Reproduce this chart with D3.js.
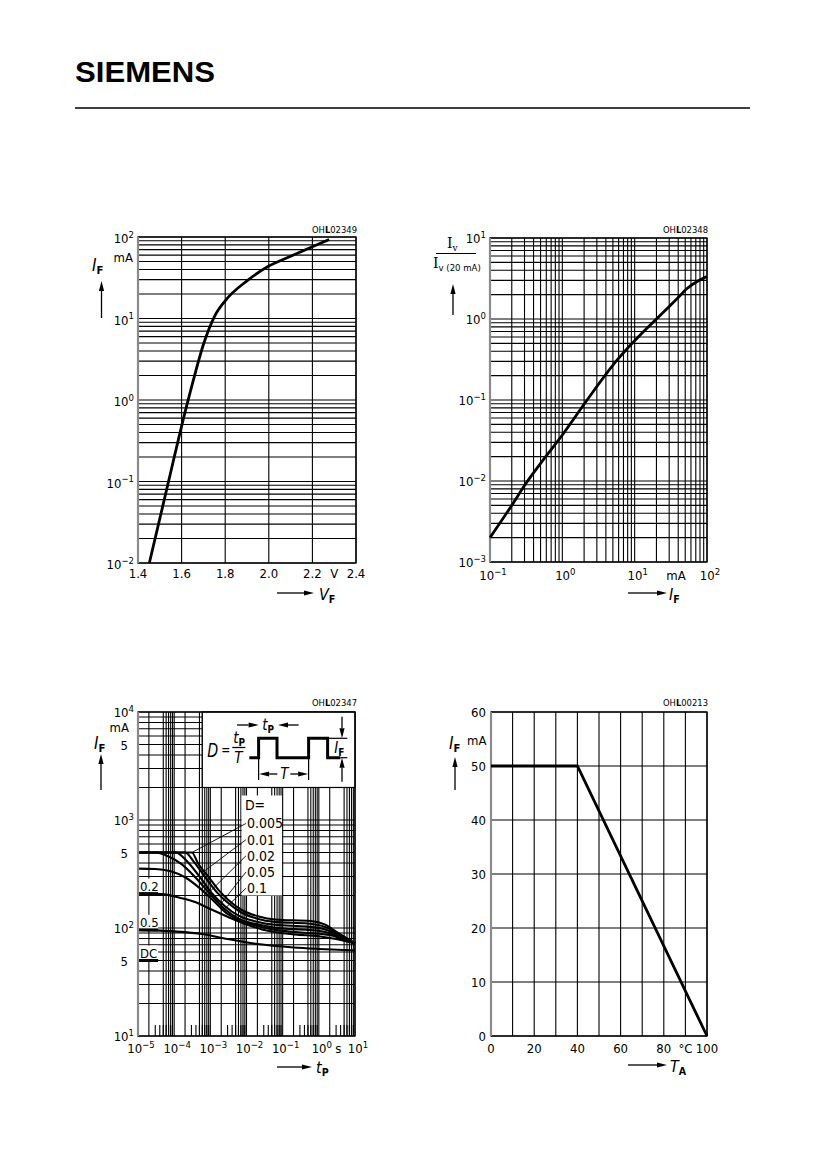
<!DOCTYPE html>
<html>
<head>
<meta charset="utf-8">
<script src="https://cdn.jsdelivr.net/npm/d3@7"></script>
<style>
  body { margin: 0; background: #fff; }
  svg { font-family: "DejaVu Sans Condensed", "DejaVu Sans", sans-serif; font-stretch: condensed; }
</style>
</head>
<body>
<script>
// ---------- DATOS ----------
// 1) IF = f(VF)
var vfVolts   = [1.452, 1.50, 1.55, 1.60, 1.65, 1.70, 1.75, 1.80, 1.90, 2.00, 2.10, 2.20, 2.277]
var vfCurrent = [0.01, 0.035, 0.13, 0.48, 1.6, 4.8, 10.5, 16.5, 29, 44, 58, 76, 93]
var vfTicks   = [1.4, 1.6, 1.8, 2.0, 2.2, 2.4]

// 2) Iv/Iv(20mA) = f(IF)
var ivCurrent = [0.1, 0.2, 0.3, 0.5, 1.0, 2.2, 5.7, 13.3, 20, 38.5, 53, 75, 100]
var ivRel     = [0.002, 0.005, 0.0088, 0.0165, 0.037, 0.1, 0.31, 0.7, 1.0, 1.78, 2.38, 2.95, 3.35]

// 3) IF = f(tp), parametro D   [tp en s, IF en mA]
var dutyLabels = ["0.005", "0.01", "0.02", "0.05", "0.1"]
var curveD005 = [[1e-5,500],[3.1e-4,500],[4.5e-4,400],[9e-4,296],[1.7e-3,224],[3.2e-3,181],[7.6e-3,146],[2.2e-2,128],[6.3e-2,120],[0.6,116],[1.45,108],[3.4,90],[10,72]]
var curveD01  = [[1e-5,500],[2e-4,500],[3.5e-4,410],[7e-4,300],[1.5e-3,215],[3e-3,172],[7e-3,140],[2e-2,122],[6e-2,114],[0.5,110],[1.5,102],[3.5,88],[10,72]]
var curveD02  = [[1e-5,500],[1.1e-4,500],[2.2e-4,420],[5e-4,300],[1.1e-3,210],[2.5e-3,160],[6e-3,130],[1.8e-2,115],[6e-2,107],[0.5,103],[1.5,97],[3.5,86],[10,72]]
var curveD05  = [[1e-5,500],[3e-5,500],[7e-5,460],[1.6e-4,390],[4e-4,290],[1e-3,205],[2.5e-3,150],[6e-3,122],[2e-2,108],[7e-2,100],[0.5,96],[1.5,92],[4,82],[10,72]]
var curveD1   = [[1e-5,355],[3e-5,352],[8e-5,335],[2e-4,295],[5e-4,235],[1.2e-3,180],[3e-3,135],[8e-3,115],[2.5e-2,102],[0.1,94],[0.5,90],[2,86],[5,78],[10,72]]
var curveD2   = [[1e-5,208],[4.5e-5,206],[1.5e-4,190],[3.8e-4,174],[1e-3,150],[3.2e-3,126],[1e-2,108],[2.7e-2,97],[0.22,87],[1,84],[3,79],[10,72]]
var curveD5   = [[1e-5,96],[3e-5,95],[1e-4,93],[6e-4,88],[3e-3,79],[2e-2,71],[0.2,66],[1,64],[10,62]]
var curveDC   = [[1e-5,50],[3.6e-5,50]]
var leaderTimes = [3.1e-4, 5.9e-4, 1e-3, 1.9e-3, 2.3e-3]   // donde tocan las lineas guia de la leyenda

// 4) IF = f(TA)
var taTemp    = [0, 40, 100]
var taCurrent = [50, 50, 0]
var taTicks   = [0, 20, 40, 60, 80, 100]
var ifTicks   = [0, 10, 20, 30, 40, 50, 60]

// ---------- UTILIDADES ----------
var svg = d3.select("body").append("svg").attr("width", 826).attr("height", 1169)
var TICK = 13

function decades(lo, hi, mults) {
    var out = []
    for (var e = Math.round(Math.log10(lo)); e < Math.round(Math.log10(hi)); e++)
        mults.forEach(function(m) { out.push(m * Math.pow(10, e)) })
    out.push(hi)
    return out
}

function gridLines(g, x, y, xs, ys) {
    g.selectAll(null).data(xs).enter().append("line")
        .attr("x1", d => x(d)).attr("x2", d => x(d))
        .attr("y1", y.range()[0]).attr("y2", y.range()[1])
        .attr("stroke", "#000").attr("stroke-width", 1.1)
    g.selectAll(null).data(ys).enter().append("line")
        .attr("y1", d => y(d)).attr("y2", d => y(d))
        .attr("x1", x.range()[0]).attr("x2", x.range()[1])
        .attr("stroke", "#000").attr("stroke-width", 1.1)
}

function frame(g, x, y) {
    var x0 = x.range()[0], x1 = x.range()[1], y0 = y.range()[1], y1 = y.range()[0]
    g.append("rect").attr("x", x0).attr("y", y0).attr("width", x1 - x0).attr("height", y1 - y0)
        .attr("fill", "none").attr("stroke", "#000").attr("stroke-width", 1.3)
    g.append("line").attr("x1", x0).attr("x2", x0).attr("y1", y0).attr("y2", y1)
        .attr("stroke", "#8a8a8a").attr("stroke-width", 2.2)
}

function pow10(g, x, y, exp, anchor) {
    var t = g.append("text").attr("x", x).attr("y", y).attr("font-size", TICK)
        .attr("text-anchor", anchor || "end")
    t.append("tspan").text("10")
    t.append("tspan").attr("dy", -5.5).attr("font-size", 9.5).text(exp)
    return t
}

function label(g, x, y, txt, anchor, size) {
    return g.append("text").attr("x", x).attr("y", y).attr("font-size", size || TICK)
        .attr("text-anchor", anchor || "middle").text(txt)
}

function symbol(g, x, y, main, sub, size) {
    size = size || 15
    var t = g.append("text").attr("x", x).attr("y", y).attr("font-size", size)
    t.append("tspan").attr("font-style", "italic").text(main)
    t.append("tspan").attr("dy", 3).attr("font-size", size * 0.66).attr("font-weight", "bold").text(sub)
    return t
}

function arrow(g, x1, y1, x2, y2, len, w) {
    len = len || 10; w = w || 2.6
    var a = Math.atan2(y2 - y1, x2 - x1)
    var bx = x2 - len * Math.cos(a), by = y2 - len * Math.sin(a)
    g.append("line").attr("x1", x1).attr("y1", y1).attr("x2", bx).attr("y2", by)
        .attr("stroke", "#000").attr("stroke-width", 1.3)
    g.append("path").attr("fill", "#000")
        .attr("d", "M" + x2 + "," + y2 +
            "L" + (bx - w * Math.sin(a)) + "," + (by + w * Math.cos(a)) +
            "L" + (bx + w * Math.sin(a)) + "," + (by - w * Math.cos(a)) + "Z")
}

function codeLabel(g, xr, y, pre, num) {
    var t = g.append("text").attr("x", xr).attr("y", y).attr("font-size", 9.5)
        .attr("text-anchor", "end").attr("textLength", 45).attr("lengthAdjust", "spacingAndGlyphs")
    t.append("tspan").text(pre)
    t.append("tspan").attr("font-weight", "bold").text("L")
    t.append("tspan").text(num)
}

function expText(e) { return e < 0 ? "\u2212" + (-e) : "" + e }

// ---------- CABECERA ----------
svg.append("text").attr("x", 75).attr("y", 81.5)
    .attr("font-family", "Liberation Sans, Arial, sans-serif").attr("font-weight", "bold")
    .attr("font-size", 30).attr("font-stretch", "normal")
    .attr("textLength", 140).attr("lengthAdjust", "spacingAndGlyphs").text("SIEMENS")
svg.append("line").attr("x1", 75).attr("x2", 750).attr("y1", 108).attr("y2", 108)
    .attr("stroke", "#000").attr("stroke-width", 1.3)

// ---------- GRAFICO 1: IF = f(VF) ----------
var g1 = svg.append("g")
var x1 = d3.scaleLinear().domain([1.4, 2.4]).range([138, 356])
var y1 = d3.scaleLog().domain([0.01, 100]).range([563, 237])

gridLines(g1, x1, y1, vfTicks, decades(0.01, 100, [1,2,3,4,5,6,7,8,9]))
frame(g1, x1, y1)

g1.append("path").datum(d3.zip(vfVolts, vfCurrent))
    .attr("fill", "none").attr("stroke", "#000").attr("stroke-width", 2.8)
    .attr("d", d3.line().x(d => x1(d[0])).y(d => y1(d[1])).curve(d3.curveMonotoneX))

vfTicks.forEach(function(v) { label(g1, x1(v), 578, v.toFixed(1)) })
label(g1, x1(2.3), 578, "V")
;[2, 1, 0, -1, -2].forEach(function(e) { pow10(g1, 134, y1(Math.pow(10, e)) + 6, expText(e)) })
label(g1, 133, 262, "mA", "end")
codeLabel(g1, 357, 233, "OH", "02349")
symbol(g1, 92, 271, "I", "F", 17)
arrow(g1, 101.5, 318, 101.5, 281)
arrow(g1, 277, 593, 314, 593)
symbol(g1, 319, 600, "V", "F", 16)

// ---------- GRAFICO 2: Iv/Iv(20mA) = f(IF) ----------
var g2 = svg.append("g")
var x2 = d3.scaleLog().domain([0.1, 100]).range([490, 707])
var y2 = d3.scaleLog().domain([0.001, 10]).range([562, 238])

gridLines(g2, x2, y2, decades(0.1, 100, [1,2,3,4,5,6,7,8,9]), decades(0.001, 10, [1,2,3,4,5,6,7,8,9]))
frame(g2, x2, y2)

g2.append("path").datum(d3.zip(ivCurrent, ivRel))
    .attr("fill", "none").attr("stroke", "#000").attr("stroke-width", 2.8)
    .attr("d", d3.line().x(d => x2(d[0])).y(d => y2(d[1])).curve(d3.curveMonotoneX))

;[-1, 0, 1, 2].forEach(function(e) { pow10(g2, x2(Math.pow(10, e)) + 3, 580, expText(e), "middle") })
label(g2, 676, 580, "mA")
;[1, 0, -1, -2, -3].forEach(function(e) { pow10(g2, 486, y2(Math.pow(10, e)) + 5, expText(e)) })
codeLabel(g2, 708, 233, "OH", "02348")

// etiqueta del eje y en forma de fraccion
var frac = g2.append("g").attr("font-family", "DejaVu Serif, serif").attr("font-stretch", "normal")
var num = frac.append("text").attr("x", 447).attr("y", 248).attr("font-size", 14)
num.append("tspan").text("I")
num.append("tspan").attr("dy", 3).attr("font-size", 9).text("v")
frac.append("line").attr("x1", 436).attr("x2", 476).attr("y1", 253.5).attr("y2", 253.5)
    .attr("stroke", "#000").attr("stroke-width", 1)
var den = frac.append("text").attr("x", 433).attr("y", 268).attr("font-size", 14)
den.append("tspan").text("I")
den.append("tspan").attr("dy", 3).attr("font-size", 9.5)
    .attr("font-family", "DejaVu Sans Condensed, DejaVu Sans, sans-serif").text("v (20 mA)")
arrow(g2, 453, 315, 453, 284)
arrow(g2, 628, 593, 667, 593)
symbol(g2, 669, 600, "I", "F", 16)

// ---------- GRAFICO 3: IF = f(tp) ----------
var g3 = svg.append("g")
var x3 = d3.scaleLog().domain([1e-5, 10]).range([138, 355])
var y3 = d3.scaleLog().domain([10, 1e4]).range([1036, 712])

gridLines(g3, x3, y3, decades(1e-5, 10, [1,2,5,6,7,8,9]), decades(10, 1e4, [1,2,3,4,5,6,7,8,9]))
// marcas cortas en la base
g3.selectAll(null).data(decades(1e-5, 10, [3,4,5,6,7,8,9]).slice(0, -1)).enter().append("line")
    .attr("x1", d => x3(d)).attr("x2", d => x3(d))
    .attr("y1", y3(10)).attr("y2", y3(10) - 11)
    .attr("stroke", "#000").attr("stroke-width", 1.1)

var line3 = d3.line().x(d => x3(d[0])).y(d => y3(d[1])).curve(d3.curveMonotoneX)
var pulseCurves = [curveD005, curveD01, curveD02, curveD05, curveD1, curveD2, curveD5]

// recuadro del esquema de pulso
var ox = x3(6e-4), oy = y3(1e4)
g3.append("rect").attr("x", ox).attr("y", oy).attr("width", x3(10) - ox).attr("height", y3(2000) - oy)
    .attr("fill", "#fff").attr("stroke", "#000").attr("stroke-width", 1.2)
// recuadro de la leyenda D=
var lx = x3(7e-3), ly = y3(2000) + 8
g3.append("rect").attr("x", lx + 0.7).attr("y", ly).attr("width", x3(0.1) - lx - 1.4).attr("height", y3(200) - ly)
    .attr("fill", "#fff")
// recuadros de etiquetas a la izquierda
;[[curveD2, "0.2"], [curveD5, "0.5"], [curveDC, "DC"]].forEach(function(p) {
    var yy = y3(p[0][0][1])
    g3.append("rect").attr("x", x3(1e-5) + 1).attr("y", yy - 15).attr("width", x3(3.6e-5) - x3(1e-5) - 1).attr("height", 14)
        .attr("fill", "#fff")
    label(g3, x3(1e-5) + 2, yy - 3, p[1], "start", TICK)
    g3.append("line").attr("x1", x3(1e-5)).attr("x2", x3(3.6e-5)).attr("y1", yy).attr("y2", yy)
        .attr("stroke", "#000").attr("stroke-width", 3)
})

g3.selectAll(null).data(pulseCurves).enter().append("path")
    .attr("fill", "none").attr("stroke", "#000").attr("stroke-width", 2.1)
    .attr("d", line3)

frame(g3, x3, y3)

// leyenda D = ... con lineas guia
function valueAt(curve, t) {
    for (var i = 1; i < curve.length; i++) {
        if (t <= curve[i][0]) {
            var a = curve[i - 1], b = curve[i]
            var f = (Math.log(t) - Math.log(a[0])) / (Math.log(b[0]) - Math.log(a[0]))
            return Math.exp(Math.log(a[1]) + f * (Math.log(b[1]) - Math.log(a[1])))
        }
    }
    return curve[curve.length - 1][1]
}
label(g3, lx + 4, ly + 15, "D=", "start", 14)
dutyLabels.forEach(function(txt, i) {
    var cy = ly + 28 + i * 16.2
    label(g3, lx + 6, cy + 5, txt, "start", 14)
    var t = leaderTimes[i]
    g3.append("line").attr("x1", lx + 5).attr("y1", cy)
        .attr("x2", x3(t)).attr("y2", y3(valueAt(pulseCurves[i], t)))
        .attr("stroke", "#000").attr("stroke-width", 0.9)
})

// esquema del pulso
var pulse = g3.append("g")
pulse.append("text").attr("x", ox + 5).attr("y", oy + 45).attr("font-size", 19).attr("font-style", "italic")
    .attr("textLength", 11).attr("lengthAdjust", "spacingAndGlyphs").text("D")
pulse.append("text").attr("x", ox + 19).attr("y", oy + 43).attr("font-size", 16)
    .attr("textLength", 9).attr("lengthAdjust", "spacingAndGlyphs").text("=")
symbol(pulse, ox + 31, oy + 31, "t", "P", 15)
pulse.append("line").attr("x1", ox + 30).attr("x2", ox + 43).attr("y1", oy + 35.5).attr("y2", oy + 35.5)
    .attr("stroke", "#000").attr("stroke-width", 1.3)
pulse.append("text").attr("x", ox + 32).attr("y", oy + 51).attr("font-size", 15).attr("font-style", "italic").text("T")
var hi = oy + 26.3, lo = oy + 45.7
pulse.append("path").attr("fill", "none").attr("stroke", "#000").attr("stroke-width", 3)
    .attr("d", "M" + (ox + 47) + "," + lo + "H" + (ox + 56.3) + "V" + hi + "H" + (ox + 74.7) + "V" + lo +
        "H" + (ox + 106.3) + "V" + hi + "H" + (ox + 125.3) + "V" + lo + "H" + (ox + 138))
arrow(pulse, ox + 34.7, oy + 13, ox + 56.3, oy + 13)
arrow(pulse, ox + 96.3, oy + 13, ox + 75.7, oy + 13)
symbol(pulse, ox + 60, oy + 18, "t", "P", 15)
pulse.append("line").attr("x1", ox + 56.3).attr("x2", ox + 56.3).attr("y1", lo).attr("y2", oy + 68).attr("stroke", "#000").attr("stroke-width", 1.2)
pulse.append("line").attr("x1", ox + 106.3).attr("x2", ox + 106.3).attr("y1", lo).attr("y2", oy + 68).attr("stroke", "#000").attr("stroke-width", 1.2)
arrow(pulse, ox + 75, oy + 62, ox + 56.8, oy + 62)
arrow(pulse, ox + 88, oy + 62, ox + 105.8, oy + 62)
pulse.append("text").attr("x", ox + 78).attr("y", oy + 67).attr("font-size", 15).attr("font-style", "italic").text("T")
pulse.append("line").attr("x1", ox + 125.3).attr("x2", ox + 145).attr("y1", hi).attr("y2", hi).attr("stroke", "#000").attr("stroke-width", 1.2)
pulse.append("line").attr("x1", ox + 138).attr("x2", ox + 145).attr("y1", lo).attr("y2", lo).attr("stroke", "#000").attr("stroke-width", 1.2)
arrow(pulse, ox + 139.7, oy + 4.7, ox + 139.7, hi)
arrow(pulse, ox + 139.7, oy + 69.7, ox + 139.7, lo)
symbol(pulse, ox + 132, oy + 41, "I", "F", 15)

;[-5, -4, -3, -2, -1, 0, 1].forEach(function(e) { pow10(g3, x3(Math.pow(10, e)) + 3, 1053, expText(e), "middle") })
label(g3, x3(Math.pow(10, 0.5)) + 1.5, 1053, "s")
;[4, 3, 2, 1].forEach(function(e) { pow10(g3, 134, y3(Math.pow(10, e)) + 5, expText(e)) })
;[5000, 500, 50].forEach(function(v) { label(g3, 128, y3(v) + 5, "5", "end") })
label(g3, 129, 732, "mA", "end")
codeLabel(g3, 357, 706, "OH", "02347")
symbol(g3, 94, 749, "I", "F", 17)
arrow(g3, 101, 790, 101, 754)
arrow(g3, 277, 1067, 312, 1067)
symbol(g3, 316, 1073, "t", "P", 16)

// ---------- GRAFICO 4: IF = f(TA) ----------
var g4 = svg.append("g")
var x4 = d3.scaleLinear().domain([0, 100]).range([491, 707])
var y4 = d3.scaleLinear().domain([0, 60]).range([1036, 712])

gridLines(g4, x4, y4, d3.range(0, 101, 10), ifTicks)
frame(g4, x4, y4)

g4.append("path").datum(d3.zip(taTemp, taCurrent))
    .attr("fill", "none").attr("stroke", "#000").attr("stroke-width", 2.8)
    .attr("d", d3.line().x(d => x4(d[0])).y(d => y4(d[1])))

taTicks.forEach(function(v) { label(g4, x4(v), 1053, "" + v) })
label(g4, x4(90), 1053, "\u00b0C")
ifTicks.forEach(function(v) { label(g4, 486, y4(v) + 5, "" + v, "end") })
label(g4, 467, 745, "mA", "start")
codeLabel(g4, 708, 706, "OH", "00213")
symbol(g4, 449, 749, "I", "F", 17)
arrow(g4, 455, 790, 455, 757)
arrow(g4, 628, 1065, 667, 1065)
symbol(g4, 670, 1072, "T", "A", 16)
</script>
</body>
</html>
